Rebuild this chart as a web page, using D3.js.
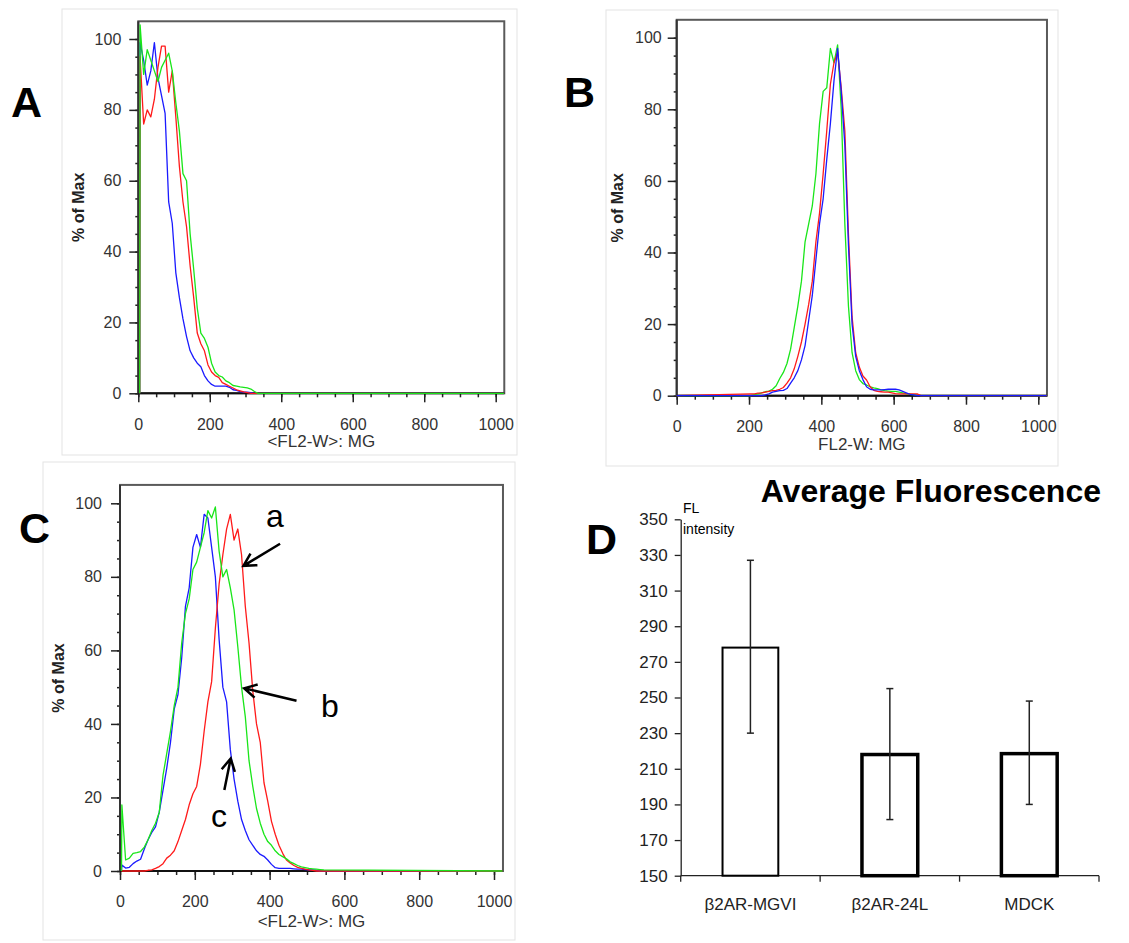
<!DOCTYPE html>
<html><head><meta charset="utf-8">
<script src="https://cdn.jsdelivr.net/npm/d3@7"></script>
<style>body{margin:0;background:#fff} svg{display:block} text{font-family:"Liberation Sans",Arial,sans-serif}</style>
</head><body><svg id="c" width="1129" height="943"></svg>
<script>
// ---------------- DATA ----------------
const histTicksX = [0, 200, 400, 600, 800, 1000];
const histTicksY = [0, 20, 40, 60, 80, 100];

// Panel A (bins, FL2-W)
const aX = [4,5,15,25,35,45,55,65,75,85,95,105,115,125,135,145,155,165,175,185,195,205,215,225,235,245,255,265,275,285,295,305,315,325,335,1023];
const aBlue  = [0,99,94,87,91,99,89,84,79,54,48,34,27,21,16,12,10,8.5,7.5,5,3.5,2.5,2,2,2,2,1.7,1,0.8,0.5,0.3,0.3,0.2,0,0,0];
const aRed   = [0,95,76,80,78,83,92,98,98,85,91,78,64,54,47,36,27,17,14,12,8,6,5,4.5,3,2.5,2,1.5,1,0.7,0.4,0.2,0,0,0,0];
const aGreen = [0,104,90,97,94,91,88,92,94,96,91,82,74,62,60,45,35,24,17,15.5,13,8.5,6,5,4.6,3.5,3,2.2,2,1.8,1.7,1.5,1.2,0.5,0,0];

// Panel B
const bX = [0,205,215,225,235,245,255,265,275,285,295,305,315,325,335,345,355,365,375,385,395,405,415,425,435,445,455,465,475,485,495,505,515,525,535,545,555,565,575,585,595,605,615,625,635,645,655,665,675,685,1023];
const bGreen = [0,0,0.3,0.5,0.8,1.1,1.3,1.8,2.8,4.8,6.5,9,13,19,25,32,43,48,53,62,76,85,86,97,93,98,80,48,25,12,7,4.5,3.4,3,2.5,2.2,2,1.6,1.4,1.3,1.2,1.2,1,0.8,0.5,0.4,0.3,0.2,0,0,0];
const bRed   = [0,0.5,0.5,0.7,0.8,1,1.2,1.4,1.5,1.8,2.3,3.5,5,7.5,11,15,20,25.5,32,43,51,62,74,87,93,96,86,74,45,22,12,8,5.5,4.4,2.5,1.5,1.2,1.1,1,1,0.8,0.6,0.5,0.5,0.5,0.5,0.5,0.5,0,0,0];
const bBlue  = [0,0,0,0,0,0.2,0.5,1,1.2,1.4,1.5,2,3.5,5,7,10,14,21,28,38,48,55,66,76,88,97,85,70,42,20,11,7,4.5,2.5,1.8,1.6,1.6,1.6,1.7,1.8,1.8,1.8,1.6,1.2,0.8,0.4,0.2,0,0,0,0];

// Panel C
const cX = [4,5,15,25,35,45,55,65,75,85,95,105,115,125,135,145,155,165,175,185,195,205,215,225,235,245,255,265,275,285,295,305,315,325,335,345,355,365,375,385,395,405,415,425,435,445,455,465,475,485,495,505,515,525,535,545,1023];
const cBlue  = [0,1.6,0.8,1,2,2.7,3.2,6,8.5,10.5,12,16,22,28,35,44,48,58,72,77,88,91.5,88,97,96,88,80,63,50,46,33,25,19,14,11,8.5,7,5.5,4.5,4,3,1.8,0.9,0.7,0.7,0.7,0.7,0.6,0.5,0.5,0.4,0.3,0.3,0.2,0,0,0];
const cRed   = [0,0,0,0,0,0,0,0,0.2,0.3,0.7,1.2,2,3.5,4.3,5.5,8,11,14,18,21,23,29,38,46,51.5,66,78,86,93,97,90,93,86,72,62,49,40,35,24,19,13.5,10,7,4.8,3,2.2,1.5,1,0.7,0.5,0.3,0.2,0,0,0,0];
const cGreen = [0,18,3,3.5,4.8,5,5.3,6.5,8.5,11,13,16,26,32,38,45,50,62,70,74,82,84,88,92,98,96,99,87,80,82,77,71,61,50,42,30,23,17,13,10,8,7,5.5,4.5,3.9,3.3,2.5,2,1.5,1.1,0.9,0.7,0.6,0.5,0.4,0.3,0];
const cLabels = ["a", "b", "c"];
const cArrowTip  = [[330, 83], [332, 49.7], [296, 30.6]];
const cArrowTail = [[428, 89], [472, 46.3], [279, 22]];
const cLabelPos  = [[414, 93.6], [561, 42], [265, 12]];

// Panel D
const dCats = ["β2AR-MGVI", "β2AR-24L", "MDCK"];
const dMeans = [278, 218, 218.5];
const dErrLow = [230, 181.5, 190];
const dErrHigh = [327, 255, 248];
const dTicks = [150, 170, 190, 210, 230, 250, 270, 290, 310, 330, 350];

// ---------------- DRAW ----------------
const svg = d3.select("#c");
const FONT = '"Liberation Sans", Arial, sans-serif';
const RED = "#ff1a1a", GREEN = "#19e619", BLUE = "#1a1aff";

function hist(cfg) {
  const x = d3.scaleLinear().domain([0, 1000]).range([cfg.x0, cfg.x1000]);
  const y = d3.scaleLinear().domain([0, 100]).range([cfg.y0, cfg.y100]);
  const g = svg.append("g");
  g.append("rect").attr("x", cfg.box[0]).attr("y", cfg.box[1]).attr("width", cfg.box[2]).attr("height", cfg.box[3])
    .attr("fill", "none").attr("stroke", "#e3e3e3").attr("stroke-width", 1);
  const xMax = 1024, yTop = 105;
  g.append("rect").attr("x", x(0)).attr("y", y(yTop)).attr("width", x(xMax) - x(0)).attr("height", y(0) - y(yTop))
    .attr("fill", "none").attr("stroke", "#5a5a5a").attr("stroke-width", 2);
  g.append("g").attr("transform", `translate(0,${y(0)})`)
    .call(d3.axisBottom(x).tickValues(d3.range(0, 1001, 50)).tickSize(4).tickFormat(""))
    .call(s => s.select(".domain").remove());
  g.append("g").attr("transform", `translate(${x(0)},0)`)
    .call(d3.axisLeft(y).tickValues(d3.range(0, 101, 5)).tickSize(3).tickFormat(""))
    .call(s => s.select(".domain").remove());
  const xa = g.append("g").attr("transform", `translate(0,${y(0)})`)
    .call(d3.axisBottom(x).tickValues(histTicksX).tickSize(9).tickPadding(16).tickFormat(d3.format("d")));
  xa.select(".domain").remove();
  const ya = g.append("g").attr("transform", `translate(${x(0)},0)`)
    .call(d3.axisLeft(y).tickValues(histTicksY).tickSize(9).tickPadding(cfg.yPad).tickFormat(d3.format("d")));
  ya.select(".domain").remove();
  [xa, ya].forEach(a => {
    a.selectAll("text").attr("font-family", FONT).attr("font-size", 16).attr("fill", "#333");
  });
  g.selectAll(".tick line").attr("stroke", "#222").attr("stroke-width", 1.5);
  g.append("line").attr("x1", x(0)).attr("x2", x(xMax)).attr("y1", y(0)).attr("y2", y(0)).attr("stroke", "#111").attr("stroke-width", 2);
  g.append("line").attr("x1", x(0)).attr("x2", x(0)).attr("y1", y(0)).attr("y2", y(yTop)).attr("stroke", "#333").attr("stroke-width", 2);
  g.append("text").attr("x", (x(0) + x(xMax)) / 2).attr("y", y(0) + cfg.xtY).attr("text-anchor", "middle")
    .attr("font-size", 17).attr("fill", "#333").text(cfg.xTitle);
  g.append("text").attr("transform", `translate(${x(0) - cfg.ytX},${(y(0) + y(yTop)) / 2}) rotate(-90)`)
    .attr("text-anchor", "middle").attr("font-size", 16).attr("font-weight", "bold").attr("fill", "#222").text("% of Max");
  const line = d3.line().x(d => x(d[0])).y(d => y(d[1])).curve(d3.curveLinear);
  cfg.series.forEach(s => {
    g.append("path").datum(d3.zip(cfg.xs, s[0])).attr("d", line)
      .attr("fill", "none").attr("stroke", s[1]).attr("stroke-width", 1.3).attr("stroke-linejoin", "round");
  });
  g.append("text").attr("x", cfg.letter[1]).attr("y", cfg.letter[2]).attr("font-size", 43).attr("font-weight", "bold")
    .attr("fill", "#000").text(cfg.letter[0]);
  return { g, x, y };
}

hist({ x0: 138.3, x1000: 495.7, y0: 393.3, y100: 39, yPad: 8, xtY: 53.5, ytX: 54, xTitle: "<FL2-W>: MG",
  box: [62, 9, 455, 446], xs: aX, letter: ["A", 11, 117],
  series: [[aBlue, BLUE], [aRed, RED], [aGreen, GREEN]] });

hist({ x0: 676.7, x1000: 1038.3, y0: 395.7, y100: 37.7, yPad: 6, xtY: 54.5, ytX: 54, xTitle: "FL2-W: MG",
  box: [606, 10, 452, 456], xs: bX, letter: ["B", 564, 107],
  series: [[bGreen, GREEN], [bRed, RED], [bBlue, BLUE]] });

const C = hist({ x0: 120, x1000: 494, y0: 871, y100: 503.3, yPad: 9, xtY: 56, ytX: 56, xTitle: "<FL2-W>: MG",
  box: [43, 462, 472, 478], xs: cX, letter: ["C", 19, 543],
  series: [[cBlue, BLUE], [cRed, RED], [cGreen, GREEN]] });

cLabels.forEach((lab, i) => {
  const [tx, ty] = [C.x(cArrowTip[i][0]), C.y(cArrowTip[i][1])];
  const [sx, sy] = [C.x(cArrowTail[i][0]), C.y(cArrowTail[i][1])];
  const ang = Math.atan2(ty - sy, tx - sx);
  const L = 14, spread = 0.5;
  const p = d3.path();
  p.moveTo(sx, sy); p.lineTo(tx, ty);
  p.moveTo(tx - L * Math.cos(ang - spread), ty - L * Math.sin(ang - spread));
  p.lineTo(tx, ty);
  p.lineTo(tx - L * Math.cos(ang + spread), ty - L * Math.sin(ang + spread));
  C.g.append("path").attr("d", p.toString()).attr("fill", "none").attr("stroke", "#000").attr("stroke-width", 2.5);
  C.g.append("text").attr("x", C.x(cLabelPos[i][0])).attr("y", C.y(cLabelPos[i][1])).attr("text-anchor", "middle")
    .attr("font-size", 32).attr("fill", "#000").text(lab);
});

// ---------------- PANEL D ----------------
const gD = svg.append("g");
const yD = d3.scaleLinear().domain([150, 350]).range([875.7, 519.3]);
const xD = d3.scaleBand().domain(dCats).range([680.7, 1099]).padding(0);
const barStroke = [2, 3.5, 3.5];

const yAxD = gD.append("g").attr("transform", `translate(${xD.range()[0]},0)`)
  .call(d3.axisLeft(yD).tickValues(dTicks).tickSize(6).tickSizeOuter(0).tickPadding(7));
yAxD.selectAll("text").attr("font-family", FONT).attr("font-size", 17).attr("fill", "#222");
yAxD.selectAll("line,path").attr("stroke", "#222").attr("stroke-width", 1.3);

gD.append("line").attr("x1", xD.range()[0]).attr("x2", xD.range()[1]).attr("y1", yD(150)).attr("y2", yD(150))
  .attr("stroke", "#222").attr("stroke-width", 1.3);
const bounds = dCats.map(c => xD(c)).concat([xD.range()[1]]);
gD.selectAll(".bt").data(bounds).join("line").attr("x1", d => d).attr("x2", d => d)
  .attr("y1", yD(150)).attr("y2", yD(150) + 6).attr("stroke", "#222").attr("stroke-width", 1.3);
gD.selectAll(".cl").data(dCats).join("text").attr("x", d => xD(d) + xD.bandwidth() / 2).attr("y", 910)
  .attr("text-anchor", "middle").attr("font-size", 17).attr("fill", "#222").text(d => d);

const bw = xD.bandwidth() * 0.4;
dCats.forEach((c, i) => {
  const cx = xD(c) + xD.bandwidth() / 2;
  gD.append("rect").attr("x", cx - bw / 2).attr("y", yD(dMeans[i])).attr("width", bw).attr("height", yD(150) - yD(dMeans[i]))
    .attr("fill", "#fff").attr("stroke", "#000").attr("stroke-width", barStroke[i]);
  gD.append("line").attr("x1", cx).attr("x2", cx).attr("y1", yD(dErrHigh[i])).attr("y2", yD(dErrLow[i]))
    .attr("stroke", "#222").attr("stroke-width", 1.5);
  [dErrHigh[i], dErrLow[i]].forEach(v => gD.append("line").attr("x1", cx - 3.5).attr("x2", cx + 3.5)
    .attr("y1", yD(v)).attr("y2", yD(v)).attr("stroke", "#222").attr("stroke-width", 1.5));
});

gD.append("text").attr("x", 1101).attr("y", 501.5).attr("text-anchor", "end").attr("font-size", 32).attr("font-weight", "bold")
  .attr("fill", "#000").text("Average Fluorescence");
gD.append("text").attr("x", 683).attr("y", 513).attr("font-size", 14).attr("fill", "#000").text("FL");
gD.append("text").attr("x", 683).attr("y", 534).attr("font-size", 14).attr("fill", "#000").text("intensity");
gD.append("text").attr("x", 586).attr("y", 554).attr("font-size", 43).attr("font-weight", "bold").attr("fill", "#000").text("D");
</script></body></html>
